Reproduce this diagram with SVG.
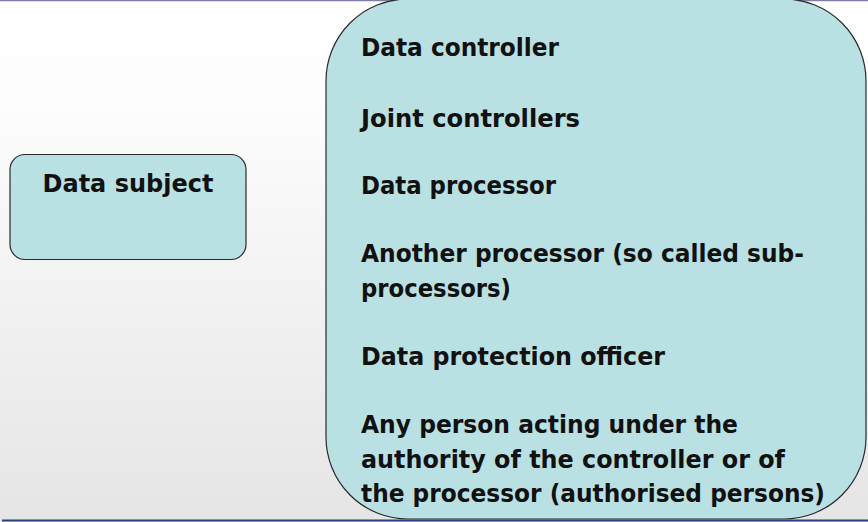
<svg xmlns="http://www.w3.org/2000/svg" width="868" height="522" viewBox="0 0 868 522">
<defs>
<linearGradient id="bg" x1="0" y1="0" x2="0" y2="1">
<stop offset="0" stop-color="#ffffff"/>
<stop offset="0.2" stop-color="#fdfdfd"/>
<stop offset="1" stop-color="#e5e5e5"/>
</linearGradient>
</defs>
<style>
.box{fill:#b9e0e3;stroke:#2a2a2a;stroke-width:1.2}
.t{font-family:"DejaVu Sans","Liberation Sans",sans-serif;font-size:25.5px;font-weight:bold;fill:#111111}
</style>
<rect x="0" y="0" width="868" height="522" fill="url(#bg)"/>
<line x1="0" y1="0.5" x2="868" y2="0.5" stroke="#7f7fa6" stroke-width="1.5"/>
<g id="data-subject">
<rect class="box" x="10" y="154.5" width="236" height="105" rx="15" ry="15"/>
<text class="t" x="128" y="192" text-anchor="middle" textLength="171" lengthAdjust="spacingAndGlyphs">Data subject</text>
</g>
<g id="roles">
<rect class="box" x="326" y="-1" width="540" height="520" rx="82" ry="82"/>
<text class="t" x="361" y="56" textLength="198" lengthAdjust="spacingAndGlyphs">Data controller</text>
<text class="t" x="361" y="127" textLength="219" lengthAdjust="spacingAndGlyphs">Joint controllers</text>
<text class="t" x="361" y="194" textLength="195" lengthAdjust="spacingAndGlyphs">Data processor</text>
<text class="t" x="361" y="262" textLength="443" lengthAdjust="spacingAndGlyphs">Another processor (so called sub-</text>
<text class="t" x="361" y="296.5" textLength="150" lengthAdjust="spacingAndGlyphs">processors)</text>
<text class="t" x="361" y="365" textLength="304" lengthAdjust="spacingAndGlyphs">Data protection officer</text>
<text class="t" x="361" y="433" textLength="377" lengthAdjust="spacingAndGlyphs">Any person acting under the</text>
<text class="t" x="361" y="467.5" textLength="424" lengthAdjust="spacingAndGlyphs">authority of the controller or of</text>
<text class="t" x="361" y="501.5" textLength="464" lengthAdjust="spacingAndGlyphs">the processor (authorised persons)</text>
</g>
<g id="connectors"></g>
<line x1="2" y1="520.5" x2="868" y2="520.5" stroke="#2d3e7c" stroke-width="2"/>
</svg>
